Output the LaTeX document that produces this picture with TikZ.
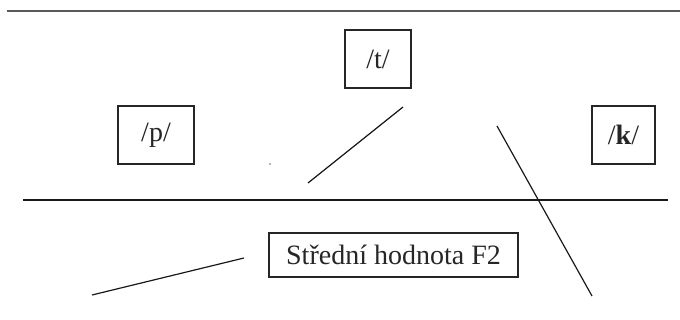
\documentclass[tikz,border=0pt]{standalone}
\usepackage{fontspec}
\setmainfont{Liberation Serif}
\begin{document}
\begin{tikzpicture}[x=1pt,y=-1pt,
  lbl/.style={draw=black!85,line width=1.2pt,inner sep=0pt,font=\fontsize{28}{32}\selectfont,text=black!85},
  stroke/.style={draw=black!90,line width=1.2pt}]
\useasboundingbox (0,0) rectangle (680,320);
% rules
\coordinate (ta) at (7,11); \coordinate (tb) at (680,11);
\draw[draw=black!65,line width=1.2pt] (ta) -- (tb);
\coordinate (ma) at (23,200); \coordinate (mb) at (668,200);
\draw[stroke] (ma) -- (mb);
% labelled boxes
\node[lbl,minimum width=76pt,minimum height=58pt] (p) at (156,135) {/p/};
\node[lbl,minimum width=66pt,minimum height=58pt] (t) at (378,59) {/t/};
\node[lbl,minimum width=63pt,minimum height=58pt] (k) at (623.5,135) {/\textbf{k}/};
\node[lbl,minimum width=249pt,minimum height=44pt] (f2) at (393.5,255) {Střední hodnota F2};
% slanted strokes
\coordinate (a1) at (308,183); \coordinate (a2) at (403,107);
\coordinate (b1) at (497,126); \coordinate (b2) at (592,296);
\coordinate (c1) at (92,295);  \coordinate (c2) at (244,258);
\draw[stroke] (a1) -- (a2);
\draw[stroke] (b1) -- (b2);
\draw[stroke] (c1) -- (c2);
% small dot
\coordinate (d) at (270,164);
\fill[black!60] (d) circle (0.8pt);
\end{tikzpicture}
\end{document}
